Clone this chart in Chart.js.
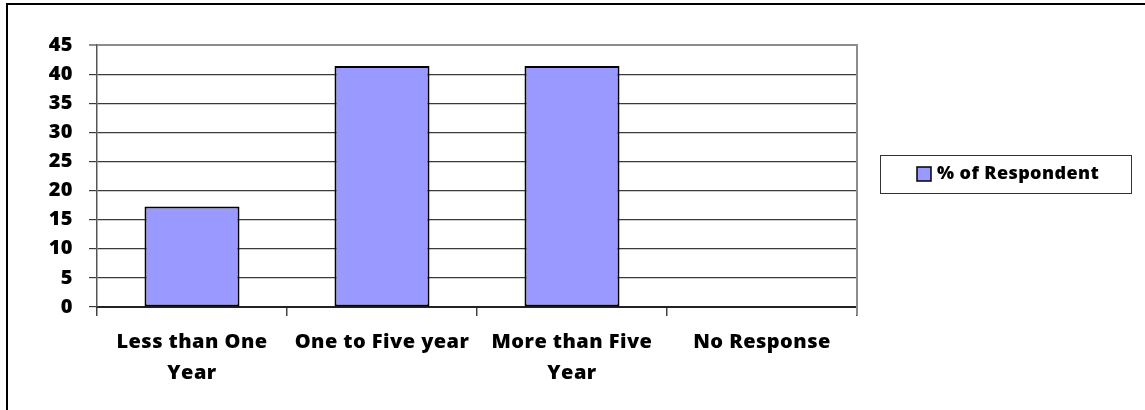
<!DOCTYPE html>
<html>
<head>
<meta charset="utf-8">
<script src="https://cdn.jsdelivr.net/npm/chart.js@4/dist/chart.umd.min.js"></script>
<style>
  html, body { margin: 0; padding: 0; background: #fff; }
  #wrap { position: relative; width: 1145px; height: 410px; overflow: hidden; }
  #frame { position: absolute; left: 6px; top: 3px; right: -10px; bottom: -10px;
           border-left: 2px solid #000; border-top: 2px solid #000; }
  canvas { position: absolute; left: 0; top: 0; }
</style>
</head>
<body>
<div id="wrap">
  <div id="frame"></div>
  <canvas id="chart" width="1145" height="410"></canvas>
</div>
<script>
const categories = [
    ['Less than One', 'Year'],
    'One to Five year',
    ['More than Five', 'Year'],
    'No Response'
];
const respondents = [17.24, 41.38, 41.38, 0];
const yTicks = [0, 5, 10, 15, 20, 25, 30, 35, 40, 45];
const seriesName = '% of Respondent';

const FONT = '"Open Sans", sans-serif';

// slightly wider lettering for all chart text
const wideText = {
    id: 'wideText',
    beforeDraw(chart) {
        chart.ctx.letterSpacing = '0.45px';
    }
};

// gray frame on the top and right of the plot area
const plotFrame = {
    id: 'plotFrame',
    afterDraw(chart) {
        const a = chart.chartArea, ctx = chart.ctx;
        ctx.save();
        ctx.strokeStyle = '#8c8c8c';
        ctx.lineWidth = 2;
        ctx.beginPath();
        ctx.moveTo(a.left, a.top);
        ctx.lineTo(a.right, a.top);
        ctx.lineTo(a.right, a.bottom + 8);
        ctx.stroke();
        ctx.restore();
    }
};

// boxed legend to the right of the plot
const boxLegend = {
    id: 'boxLegend',
    afterDraw(chart) {
        const a = chart.chartArea, ctx = chart.ctx;
        const ds = chart.data.datasets[0];
        const x = a.right + 23, w = 251, h = 38;
        const y = (a.top + a.bottom) / 2 - h / 2 - 2;
        ctx.save();
        ctx.fillStyle = '#fff';
        ctx.fillRect(x, y, w, h);
        ctx.strokeStyle = '#333';
        ctx.lineWidth = 1;
        ctx.strokeRect(x + 0.5, y + 0.5, w, h);
        ctx.fillStyle = ds.backgroundColor;
        ctx.fillRect(x + 37, y + 12, 14, 14);
        ctx.strokeStyle = '#000';
        ctx.lineWidth = 1.5;
        ctx.strokeRect(x + 37, y + 12, 14, 14);
        ctx.fillStyle = '#000';
        ctx.letterSpacing = '0.4px';
        ctx.font = '800 18px ' + FONT;
        ctx.textBaseline = 'middle';
        ctx.fillText(ds.label, x + 57, y + h / 2);
        ctx.restore();
    }
};

new Chart(document.getElementById('chart'), {
    type: 'bar',
    data: {
        labels: categories,
        datasets: [{
            label: seriesName,
            data: respondents,
            backgroundColor: '#9999ff',
            borderColor: '#000',
            borderWidth: 2,
            borderSkipped: false,
            barPercentage: 0.5,
            categoryPercentage: 1
        }]
    },
    options: {
        responsive: false,
        animation: false,
        layout: { padding: { left: 0, top: 45, right: 288, bottom: 0 } },
        plugins: {
            legend: { display: false },
            tooltip: { enabled: false }
        },
        scales: {
            x: {
                afterFit(s) { s.height = 103; },
                grid: { drawOnChartArea: false, tickLength: 9, color: '#444', lineWidth: 1.5 },
                border: { color: '#222', width: 2 },
                ticks: {
                    color: '#000',
                    padding: 11,
                    maxRotation: 0,
                    autoSkip: false,
                    font: { family: FONT, size: 20, weight: 800, lineHeight: '31px' }
                }
            },
            y: {
                min: 0,
                max: 45,
                afterFit(s) { s.width = 97; },
                afterBuildTicks(s) { s.ticks = yTicks.map(v => ({ value: v })); },
                grid: {
                    tickLength: 8,
                    color: ctx => ctx.tick && ctx.tick.value === 45 ? '#8c8c8c' : '#3a3a3a',
                    lineWidth: ctx => ctx.tick && ctx.tick.value === 45 ? 2 : 1.2
                },
                border: { color: '#555', width: 1.5 },
                ticks: {
                    color: '#000',
                    padding: 16,
                    font: { family: FONT, size: 20, weight: 800 }
                }
            }
        }
    },
    plugins: [wideText, plotFrame, boxLegend]
});
</script>
</body>
</html>
